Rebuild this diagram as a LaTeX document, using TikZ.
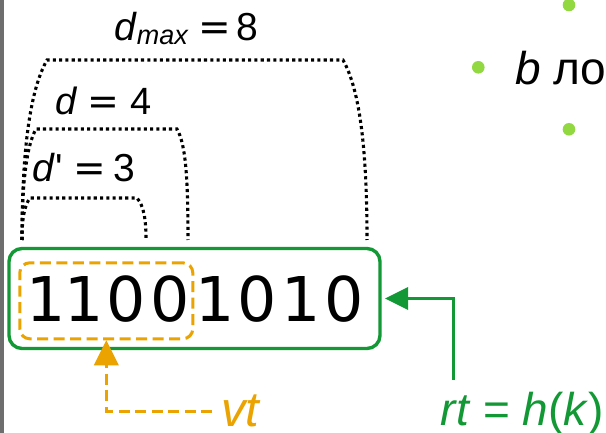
\documentclass[tikz,border=0pt]{standalone}
\usepackage{fontspec}
\setmainfont{Liberation Sans}
\newfontfamily\digitfont{DejaVu Sans}
\usetikzlibrary{arrows.meta}
\definecolor{boxgreen}{RGB}{18,152,52}
\definecolor{vtorange}{RGB}{234,163,0}
\definecolor{bulletgreen}{RGB}{146,216,64}
\definecolor{edgegray}{RGB}{110,110,110}
\newcommand{\eqsign}{{\digitfont=}}
\begin{document}
\begin{tikzpicture}[x=1pt,y=-1pt,
  dotline/.style={line width=3.1pt, dash pattern=on 3.1pt off 3.2pt, black},
  greenline/.style={line width=3.4pt, draw=boxgreen},
  orangeline/.style={line width=3pt, draw=vtorange, dash pattern=on 11pt off 5.5pt},
  digit/.style={font=\digitfont\fontsize{61.7}{70}\selectfont, inner sep=0pt, anchor=base},
  lbl/.style={inner sep=0pt, anchor=base west},
  bullet/.style={fill=bulletgreen, draw=none},
]
\useasboundingbox (0,0) rectangle (606,433);
\fill[white] (0,0) rectangle (606,433);
\fill[edgegray] (0,0) rectangle (4,433);

% register box
\node[greenline, rounded corners=13pt, minimum width=371pt, minimum height=100pt, inner sep=0pt] (reg) at (194.5,298.5) {};
% window box
\node[orangeline, rounded corners=10pt, minimum width=173pt, minimum height=76pt, inner sep=0pt] (win) at (106.3,300.8) {};

% digits
\node[digit] (b1) at (45.8,321.7) {1};
\node[digit] (b2) at (84,321.7) {1};
\node[digit] (b3) at (126.5,321.7) {0};
\node[digit] (b4) at (170,321.7) {0};
\node[digit] (b5) at (215,321.7) {1};
\node[digit] (b6) at (257.5,321.7) {0};
\node[digit] (b7) at (301.5,321.7) {1};
\node[digit] (b8) at (344,321.7) {0};

% dotted brackets
\draw[dotline] (22,240) .. controls (22,150) and (30,90) .. (47,60) -- (343,60) .. controls (360,90) and (367,150) .. (367,240);
\draw[dotline] (22,240) .. controls (22,180) and (27,145) .. (36,129) -- (177,129) .. controls (186,145) and (188,180) .. (188,240);
\draw[dotline] (22,240) .. controls (22,220) and (24,206) .. (30,198) -- (137,198) .. controls (144,206) and (146,220) .. (146,240);

% labels
\node[lbl] (dmax) at (114,40.7) {\fontsize{39}{44}\selectfont\textit{d}\raisebox{-3.6pt}{\fontsize{27}{30}\selectfont\itshape max} \eqsign\hspace{5pt}8};
\node[lbl] (dd) at (55,115) {\fontsize{38}{42}\selectfont\textit{d} \eqsign{} 4};
\node[lbl] (dp) at (32.5,181.7) {\fontsize{39}{44}\selectfont\textit{d}\textquotesingle{} \eqsign\hspace{7pt}3};

% vt
\node[lbl, text=vtorange] (vt) at (221,426.7) {\fontsize{49}{54}\selectfont\itshape vt};
\draw[orangeline, -{Triangle[length=25pt,width=25pt,line width=0pt]}] ([xshift=-9pt]vt.west) -| (win.south);

% rt = h(k)
\node[lbl, text=boxgreen] (rt) at (440.5,425) {\fontsize{46}{50}\selectfont\textit{rt} = \textit{h}(\textit{k})};
\draw[greenline, -{Triangle[length=23pt,width=23pt,line width=0pt]}] ([xshift=12.8pt,yshift=11.5pt]rt.north west) |- ([xshift=3.5pt]reg.east);

% right side bullets and text
\fill[bullet] (569,5) circle (6.3);
\fill[bullet] (478.3,67.3) circle (6.3);
\fill[bullet] (569,129.3) circle (6.3);
\node[lbl] (btext) at (515,85) {\fontsize{46}{50}\selectfont\textit{b} ло};
\end{tikzpicture}
\end{document}
